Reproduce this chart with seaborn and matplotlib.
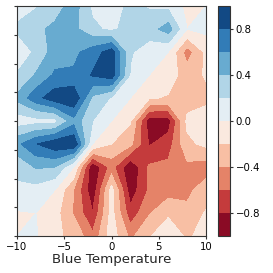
import numpy as np
import matplotlib
matplotlib.use("Agg")
import matplotlib.pyplot as plt
import seaborn as sns

# grid coordinates
x_values = [-10, -8, -6, -4, -2, 0, 2, 4, 6, 8, 10]
y_values = [-10, -8, -6, -4, -2, 0, 2, 4, 6, 8, 10]

# values, one row per y (from -10 up to 10), columns follow x_values
row_y_m10 = [0.00, 0.02, -0.17, -0.24, -0.55, -0.09, -0.45, -0.21, -0.12, -0.22, -0.15]
row_y_m8 = [-0.02, 0.00, -0.12, -0.42, -0.79, -0.12, -0.73, -0.42, -0.22, -0.35, -0.18]
row_y_m6 = [0.17, 0.12, 0.00, -0.40, -0.95, -0.12, -0.92, -0.57, -0.50, -0.45, -0.30]
row_y_m4 = [0.24, 0.42, 0.40, 0.00, -0.98, -0.52, -0.98, -0.57, -0.55, -0.45, -0.50]
row_y_m2 = [0.55, 0.79, 0.95, 0.98, 0.00, -0.20, -0.35, -0.82, -0.70, -0.25, -0.15]
row_y_0 = [0.09, 0.12, 0.12, 0.53, 0.20, 0.00, -0.18, -0.92, -0.90, -0.15, -0.10]
row_y_2 = [0.45, 0.73, 0.92, 0.98, 0.35, 0.18, 0.00, -0.18, -0.22, -0.30, -0.25]
row_y_4 = [0.21, 0.42, 0.63, 0.63, 0.82, 0.92, 0.18, 0.00, -0.10, -0.30, -0.18]
row_y_6 = [0.12, 0.22, 0.50, 0.55, 0.70, 0.90, 0.22, 0.10, 0.00, -0.50, -0.15]
row_y_8 = [0.22, 0.35, 0.45, 0.45, 0.25, 0.15, 0.30, 0.30, 0.50, 0.00, 0.05]
row_y_10 = [0.15, 0.18, 0.30, 0.50, 0.15, 0.10, 0.25, 0.18, 0.15, -0.05, 0.00]

contour_levels = [-1.0, -0.8, -0.6, -0.4, -0.2, 0.0, 0.2, 0.4, 0.6, 0.8, 1.0]
colorbar_ticks = [-0.8, -0.4, 0.0, 0.4, 0.8]
x_ticks = [-10, -5, 0, 5, 10]
y_ticks = [-10, -7.5, -5, -2.5, 0, 2.5, 5, 7.5, 10]
x_label = "Blue Temperature"

Z = np.array([row_y_m10, row_y_m8, row_y_m6, row_y_m4, row_y_m2, row_y_0,
              row_y_2, row_y_4, row_y_6, row_y_8, row_y_10])
X, Y = np.meshgrid(x_values, y_values)

sns.set_style("ticks")
plt.rcParams["font.family"] = ["DejaVu Sans"]

W = H = 273
fig = plt.figure(figsize=(2.73, 2.73), dpi=100)
ax = fig.add_axes([17 / W, (H - 236) / H, (206 - 17) / W, 230 / H])
cax = fig.add_axes([218 / W, (H - 236) / H, 12 / W, 230 / H])

cs = ax.contourf(X, Y, Z, levels=contour_levels, cmap=sns.color_palette("RdBu", as_cmap=True))
ax.set_xlim(-10, 10)
ax.set_ylim(-10, 10)
ax.set_xticks(x_ticks)
ax.set_yticks(y_ticks)
ax.set_yticklabels([])
ax.set_xlabel(x_label, fontsize=9.6, labelpad=1)
ax.tick_params(axis="both", labelsize=7.3, length=2.5, width=0.8, pad=1.5, colors="#333333", labelcolor="black")
for s in ax.spines.values():
    s.set_color("#333333")
    s.set_linewidth(0.8)

cb = fig.colorbar(cs, cax=cax, ticks=colorbar_ticks)
cb.ax.tick_params(labelsize=7.3, length=2.5, width=0.8, pad=1.5, colors="#333333", labelcolor="black")
cb.outline.set_edgecolor("#333333")
cb.outline.set_linewidth(0.8)

fig.savefig("out.png", dpi=100)
